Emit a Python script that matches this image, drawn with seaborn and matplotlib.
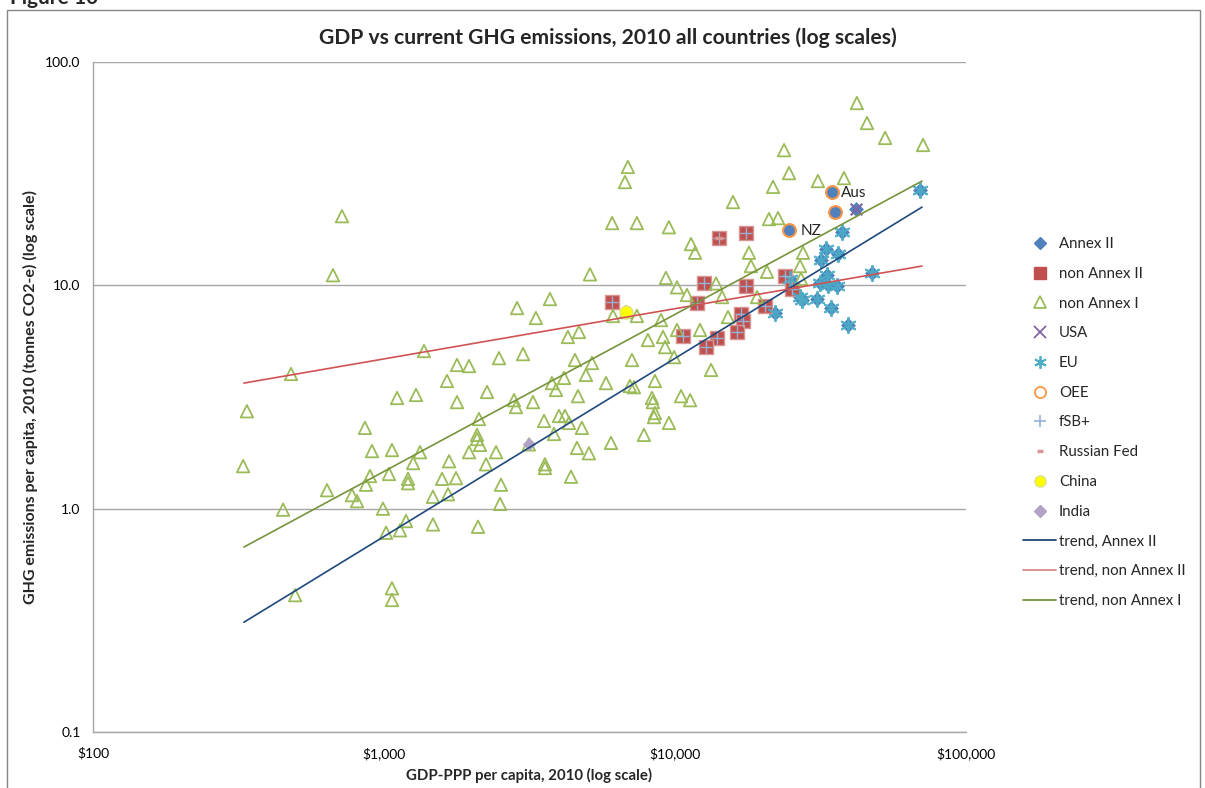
import matplotlib
matplotlib.use('Agg')
import matplotlib.pyplot as plt
from matplotlib.lines import Line2D
from matplotlib.patches import Rectangle
from matplotlib.ticker import NullLocator
import seaborn as sns

# GDP-PPP per capita ($) and GHG per capita (t CO2-e)
non_annex1_gdp = [328, 338, 668, 717, 479, 450, 495, 637, 776, 808, 867, 895, 1040, 1209, 1209,
                  1583, 1768, 1473, 1660, 992, 1190, 1135, 1016, 1473, 2104, 1065, 1065, 909, 1065,
                  1330, 1259, 1673, 1960, 2427, 2242, 860, 2088, 2088, 2137, 2120, 3548, 3993, 4188,
                  4322, 4786, 3838, 4604, 5060, 6026, 3573, 3573, 4391, 2523, 2505, 7818, 9530, 8393,
                  8532, 8470, 10490, 11270, 1109, 1288, 1782, 2260, 2797, 2842, 3251, 4641, 1646,
                  3776, 3899, 4157, 4943, 5793, 6998, 7227, 8532, 1782, 1960, 2484, 3005, 1372, 4532,
                  5184, 7112, 9931, 13300, 3718, 2866, 3327, 4285, 4677, 5101, 6081, 7396, 9530, 6887,
                  6730, 6123, 7396, 8950, 8072, 9096, 10160, 12190, 9244, 8335, 11350, 11720, 9310,
                  13840, 10160, 10990, 14510, 19140, 15210, 15820, 21040, 22600, 17950, 18240, 20710,
                  27540, 26900, 27100, 23700, 24660, 21720, 30980, 38070, 42170, 45690, 52720, 71190,
                  6790, 3147]
non_annex1_ghg = [1.55, 2.73, 11.1, 20.4, 4.01, 0.99, 0.41, 1.21, 1.15, 1.08, 1.28, 1.40, 1.43, 1.36, 1.30,
                  1.36, 1.37, 1.13, 1.16, 1.00, 0.88, 0.80, 0.78, 0.85, 0.83, 0.44, 0.39, 1.81, 1.83,
                  1.79, 1.60, 1.63, 1.79, 1.79, 1.58, 2.30, 2.14, 2.05, 1.93, 2.52, 2.47, 2.60, 2.60,
                  2.42, 2.30, 2.16, 1.87, 1.77, 1.97, 1.58, 1.52, 1.39, 1.28, 1.05, 2.14, 2.42, 3.00,
                  2.68, 2.57, 3.19, 3.06, 3.13, 3.23, 3.00, 3.33, 3.06, 2.85, 3.00, 3.19, 3.73,
                  3.65, 3.40, 3.85, 3.97, 3.65, 3.54, 3.50, 3.73, 4.40, 4.35, 4.72, 4.92, 5.08, 4.63,
                  4.49, 4.63, 4.77, 4.18, 8.68, 7.91, 7.14, 5.87, 6.18, 11.2, 19.0, 19.0, 18.2, 33.9,
                  29.0, 7.29, 7.29, 6.99, 5.69, 5.87, 6.31, 6.31, 5.29, 3.13, 15.3, 14.0, 10.8,
                  10.2, 9.8, 9.05, 8.86, 8.86, 7.21, 23.6, 19.8, 20.0, 14.0, 12.2, 11.5,
                  14.0, 12.2, 10.7, 40.3, 31.8, 27.6, 29.3, 30.2, 65.5, 53.3, 45.7, 42.5,
                  7.59, 1.94]

eu_gdp = [69500, 37500, 33000, 31800, 36300, 33300, 31500, 33600, 36000, 24800, 26900, 27300,
          30700, 34400, 39300, 47500, 22100]
eu_ghg = [26.7, 17.3, 14.5, 13.0, 13.8, 11.1, 10.2, 10.0, 9.93, 10.7, 8.86, 8.59,
          8.68, 7.91, 6.64, 11.35, 7.52]

oee_gdp = [34700, 35500, 24660]
oee_ghg = [26.2, 21.3, 17.7]
oee_labels = ['Aus', '', 'NZ']

usa_gdp = [41900]
usa_ghg = [21.9]

annex2_gdp = eu_gdp + oee_gdp + usa_gdp
annex2_ghg = eu_ghg + oee_ghg + usa_ghg

non_annex2_gdp = [14170, 17540, 23900, 25200, 12600, 17540, 6080, 11900, 20400, 16900, 17100,
                  16300, 13900, 12800, 10650]
non_annex2_ghg = [16.3, 17.1, 11.0, 9.62, 10.2, 9.93, 8.42, 8.33, 8.08, 7.44, 6.92,
                  6.18, 5.81, 5.29, 5.93]
fsb_gdp = non_annex2_gdp
fsb_ghg = non_annex2_ghg

russia_gdp = [14170]
russia_ghg = [16.3]
china_gdp = [6790]
china_ghg = [7.59]
india_gdp = [3147]
india_ghg = [1.94]

trend_gdp = [330, 70600]
trend_annex2 = [0.31, 22.4]
trend_non_annex2 = [3.65, 12.2]
trend_non_annex1 = [0.673, 29.3]

x_ticks = [100, 1000, 10000, 100000]
x_tick_labels = ['$100', '$1,000', '$10,000', '$100,000']
y_ticks = [0.1, 1, 10, 100]
y_tick_labels = ['0.1', '1.0', '10.0', '100.0']

BLUE = '#4F81BD'
RED = '#C0504D'
GREEN = '#9BBB59'
PURPLE = '#8064A2'
TEAL = '#4BACC6'
ORANGE = '#F79646'
LIGHTBLUE = '#95B3D7'
PINK = '#D99694'
YELLOW = '#FFFF00'
LAVENDER = '#B3A2C7'
GRID = '#A6A6A6'

sns.set_style('white')
plt.rcParams['font.family'] = ['Lato', 'DejaVu Sans']

fig = plt.figure(figsize=(12.05, 7.88), dpi=100)
ax = fig.add_axes([93 / 1205, 1 - 732 / 788, 873 / 1205, 670 / 788])

ast = (6, 2, 0)

sns.scatterplot(x=annex2_gdp, y=annex2_ghg, marker='D', s=50, color=BLUE, edgecolor=BLUE,
                linewidth=0.5, ax=ax, zorder=3)
sns.scatterplot(x=non_annex2_gdp, y=non_annex2_ghg, marker='s', s=100, color=RED, edgecolor='#D99694',
                linewidth=1, ax=ax, zorder=3)
sns.scatterplot(x=non_annex1_gdp, y=non_annex1_ghg, marker='^', s=80, facecolor='none', edgecolor=GREEN,
                linewidth=1.3, ax=ax, zorder=3)
sns.scatterplot(x=usa_gdp, y=usa_ghg, marker='x', s=70, color=PURPLE, linewidth=1.5, ax=ax, zorder=4)
sns.scatterplot(x=eu_gdp, y=eu_ghg, marker=ast, s=120, color=TEAL, linewidth=1.5, alpha=0.9, ax=ax, zorder=4)
sns.scatterplot(x=oee_gdp, y=oee_ghg, marker='o', s=85, color=BLUE, edgecolor=ORANGE,
                linewidth=1.5, ax=ax, zorder=4)
sns.scatterplot(x=fsb_gdp, y=fsb_ghg, marker='+', s=85, color=LIGHTBLUE, linewidth=1, ax=ax, zorder=4)
sns.scatterplot(x=russia_gdp, y=russia_ghg, marker='_', s=40, color=PINK, linewidth=2.5, ax=ax, zorder=5)
sns.scatterplot(x=china_gdp, y=china_ghg, marker='o', s=85, color=YELLOW, edgecolor='#E0E08A',
                linewidth=1, ax=ax, zorder=5)
sns.scatterplot(x=india_gdp, y=india_ghg, marker='D', s=40, color=LAVENDER, edgecolor=LAVENDER,
                linewidth=0.5, ax=ax, zorder=5)

sns.lineplot(x=trend_gdp, y=trend_annex2, color='#1F497D', lw=1.2, ax=ax, zorder=6)
sns.lineplot(x=trend_gdp, y=trend_non_annex2, color='#D05353', lw=1.2, ax=ax, zorder=6)
sns.lineplot(x=trend_gdp, y=trend_non_annex1, color='#77933C', lw=1.2, ax=ax, zorder=6)

for gx, gy, lab in zip(oee_gdp, oee_ghg, oee_labels):
    if lab:
        ax.annotate(lab, (gx, gy), xytext=(6 if lab == 'Aus' else 8, -1), textcoords='offset points',
                    va='center', ha='left', fontsize=11, zorder=7)

ax.set_xscale('log')
ax.set_yscale('log')
ax.set_xlim(100, 100000)
ax.set_ylim(0.1, 100)
ax.set_xticks(x_ticks)
ax.set_xticklabels(x_tick_labels)
ax.set_yticks(y_ticks)
ax.set_yticklabels(y_tick_labels)
ax.xaxis.set_minor_locator(NullLocator())
ax.yaxis.set_minor_locator(NullLocator())
ax.tick_params(axis='both', direction='out', length=5, width=1, color=GRID, labelsize=10,
               labelcolor='black', pad=4)
ax.tick_params(axis='x', pad=6)
ax.yaxis.grid(True, color=GRID, lw=1)
ax.xaxis.grid(False)
for side in ['top', 'right']:
    ax.spines[side].set_visible(False)
for side in ['left', 'bottom']:
    ax.spines[side].set_color(GRID)
    ax.spines[side].set_linewidth(1)
ax.set_xlabel('')
ax.set_ylabel('')

fig.text(608 / 1205, 1 - 38 / 788, 'GDP vs current GHG emissions, 2010 all countries (log scales)',
         ha='center', va='center', fontsize=15.2, fontweight='bold')
fig.text(529 / 1205, 1 - 775 / 788, 'GDP-PPP per capita, 2010 (log scale)',
         ha='center', va='center', fontsize=10.8, fontweight='bold')
fig.text(30 / 1205, 1 - 397 / 788, 'GHG emissions per capita, 2010 (tonnes CO2-e) (log scale)',
         ha='center', va='center', rotation=90, fontsize=11.5, fontweight='bold')
fig.text(10 / 1205, 1 - 4 / 788, 'Figure 10', ha='left', va='baseline', fontsize=15, fontweight='bold')

fig.patches.append(Rectangle((7 / 1205, -0.01), 1193 / 1205, 1.01 - 10 / 788, transform=fig.transFigure,
                             fill=False, edgecolor='#868686', lw=1))

handles = [
    Line2D([], [], ls='none', marker='D', ms=6, mfc=BLUE, mec=BLUE),
    Line2D([], [], ls='none', marker='s', ms=9, mfc=RED, mec=RED),
    Line2D([], [], ls='none', marker='^', ms=8, mfc='none', mec=GREEN, mew=1.3),
    Line2D([], [], ls='none', marker='x', ms=8, mec=PURPLE, mew=1.3),
    Line2D([], [], ls='none', marker=ast, ms=9, mec=TEAL, mew=1.3),
    Line2D([], [], ls='none', marker='o', ms=8, mfc='white', mec=ORANGE, mew=1.3),
    Line2D([], [], ls='none', marker='+', ms=9, mec=LIGHTBLUE, mew=1.2),
    Line2D([], [], ls='none', marker='_', ms=5, mec=PINK, mew=2.5),
    Line2D([], [], ls='none', marker='o', ms=8, mfc=YELLOW, mec='#E0E08A', mew=1),
    Line2D([], [], ls='none', marker='D', ms=6, mfc=LAVENDER, mec=LAVENDER),
    Line2D([], [], color='#1F497D', lw=1.3),
    Line2D([], [], color='#D88A8A', lw=1.3),
    Line2D([], [], color='#77933C', lw=1.3),
]
labels = ['Annex II', 'non Annex II', 'non Annex I', 'USA', 'EU', 'OEE', 'fSB+', 'Russian Fed',
          'China', 'India', 'trend, Annex II', 'trend, non Annex II', 'trend, non Annex I']
fig.legend(handles, labels, loc='upper left', bbox_to_anchor=(1017 / 1205, 1 - 231 / 788),
           frameon=False, fontsize=10.8, handlelength=2.2, handletextpad=0.2, labelspacing=1.05,
           borderaxespad=0, borderpad=0.4)

fig.savefig('out.png', dpi=100)
